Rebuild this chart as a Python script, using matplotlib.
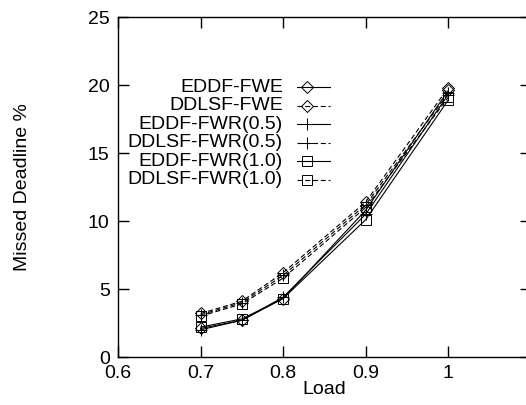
import matplotlib
matplotlib.use("Agg")
import matplotlib.pyplot as plt

plt.rcParams['font.family'] = ['Liberation Sans', 'DejaVu Sans']

load = [0.7, 0.75, 0.8, 0.9, 1.0]

eddf_fwe = [2.1, 2.7, 4.3, 10.8, 19.6]
ddlsf_fwe = [3.2, 4.1, 6.2, 11.4, 19.8]
eddf_fwr05 = [2.0, 2.7, 4.4, 10.5, 19.3]
ddlsf_fwr05 = [3.1, 4.0, 6.0, 11.2, 19.4]
eddf_fwr10 = [2.2, 2.8, 4.3, 10.1, 18.9]
ddlsf_fwr10 = [3.0, 3.9, 5.8, 11.0, 19.1]

labels = ['EDDF-FWE', 'DDLSF-FWE', 'EDDF-FWR(0.5)', 'DDLSF-FWR(0.5)',
          'EDDF-FWR(1.0)', 'DDLSF-FWR(1.0)']
series = [eddf_fwe, ddlsf_fwe, eddf_fwr05, ddlsf_fwr05, eddf_fwr10, ddlsf_fwr10]
markers = ['D', 'D', '+', '+', 's', 's']
msizes = [6.2, 6.2, 9, 9, 7, 7]

xticks = [0.6, 0.7, 0.8, 0.9, 1.0]
xticklabels = ['0.6', '0.7', '0.8', '0.9', '1']
yticks = [0, 5, 10, 15, 20, 25]

fig = plt.figure(figsize=(5.26, 4.05), dpi=100)
ax = fig.add_axes([0.2243, 0.1185, 0.785, 0.8395])

styles = []
for i, (vals, lab) in enumerate(zip(series, labels)):
    ls = (0, (4.5, 2.5)) if i % 2 == 1 else '-'
    styles.append(ls)
    ax.plot(load, vals, color='black', lw=0.8, linestyle=ls,
            marker=markers[i], markersize=msizes[i], markerfacecolor='none',
            markeredgecolor='black', markeredgewidth=0.7)

ax.set_xlim(0.6, 1.1)
ax.set_ylim(0, 25)
ax.set_xticks(xticks)
ax.set_xticklabels(xticklabels)
ax.set_yticks(yticks)
ax.tick_params(direction='in', length=8, width=1.0, top=True, right=True,
               labelsize=14, pad=6)
for sp in ax.spines.values():
    sp.set_linewidth(1.0)

ax.set_xlabel('Load', fontsize=14, labelpad=-1)
ax.set_ylabel('Missed Deadline %', fontsize=14, labelpad=41)

# gnuplot-style key: right-aligned text, sample to the right
tr = ax.transAxes
y0, dy = 0.794, 0.0545
for i, lab in enumerate(labels):
    y = y0 - i * dy
    ax.text(0.3995, y, lab, transform=tr, ha='right', va='center', fontsize=14)
    ax.plot([0.433, 0.513], [y, y], transform=tr, color='black', lw=0.8,
            linestyle=styles[i])
    ax.plot([0.457], [y], transform=tr, marker=markers[i], markersize=msizes[i],
            markerfacecolor='none', markeredgecolor='black',
            markeredgewidth=0.7, linestyle='none')

fig.savefig('out.png', dpi=100)
